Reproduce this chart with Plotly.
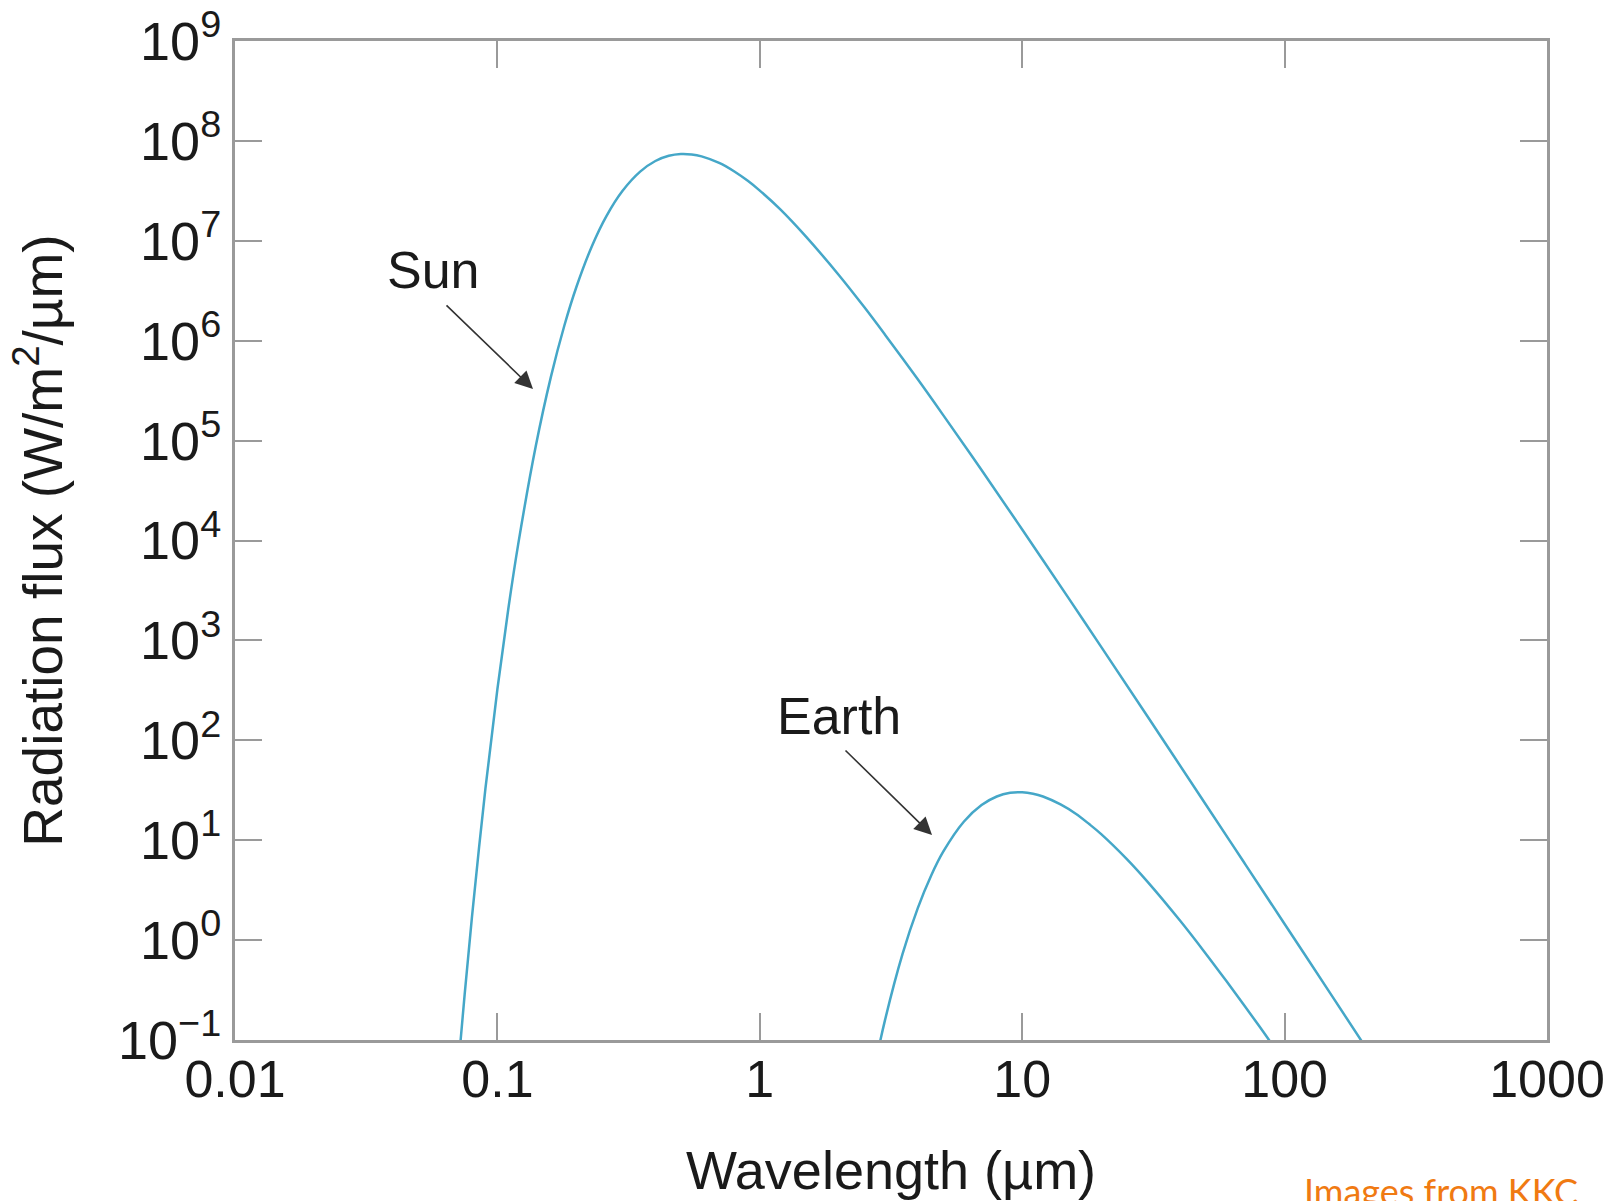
import plotly.graph_objects as go

# ---- data ----
sun_wavelength_um = [0.072, 0.075, 0.08, 0.09, 0.1, 0.11, 0.12, 0.14, 0.16, 0.18, 0.2, 0.23, 0.26,
                     0.3, 0.35, 0.4, 0.45, 0.5, 0.55, 0.6, 0.7, 0.8, 0.9, 1.0, 1.2, 1.5, 2, 2.5, 3,
                     4, 5, 7, 10, 15, 20, 30, 50, 70, 100, 150, 200]
sun_flux = [0.084, 0.283, 1.71, 32.6, 326, 2051, 9139, 8.77e4, 4.37e5, 1.42e6, 3.45e6, 9.04e6, 1.76e7,
            3.17e7, 4.93e7, 6.29e7, 7.09e7, 7.40e7, 7.32e7, 7.00e7, 6.02e7, 4.94e7, 3.98e7, 3.18e7,
            2.05e7, 1.10e7, 4.55e6, 2.17e6, 1.15e6, 4.11e5, 1.80e5, 5.07e4, 1.29e4, 2663, 861,
            174, 22.9, 6.01, 1.45, 0.288, 0.091]

earth_wavelength_um = [2.7, 3, 3.5, 4, 4.5, 5, 6, 7, 8, 9, 10, 11, 12, 14, 16, 18, 20, 25, 30,
                       40, 50, 60, 70, 80, 90]
earth_flux = [0.0447, 0.158, 0.727, 2.09, 4.44, 7.67, 15.4, 22.5, 27.4, 29.8, 30.2, 29.2, 27.4,
              22.8, 18.4, 14.5, 11.5, 6.50, 3.85, 1.56, 0.736, 0.389, 0.224, 0.138, 0.089]

x_tick_values = [0.01, 0.1, 1, 10, 100, 1000]
x_tick_labels = ["0.01", "0.1", "1", "10", "100", "1000"]
y_tick_exponents = [-1, 0, 1, 2, 3, 4, 5, 6, 7, 8, 9]

y_tick_values = [10.0 ** e for e in y_tick_exponents]
y_tick_labels = ["10<sup>%s</sup>" % (str(e).replace("-", "\u2212")) for e in y_tick_exponents]

curve_color = "#45a7c8"
axis_color = "#9a9a9a"
text_color = "#1a1a1a"
font_family = "Liberation Sans, Arial, Helvetica, sans-serif"

fig = go.Figure()
fig.add_trace(go.Scatter(x=sun_wavelength_um, y=sun_flux, mode="lines", name="Sun",
                         line=dict(color=curve_color, width=2.5, shape="spline"),
                         showlegend=False))
fig.add_trace(go.Scatter(x=earth_wavelength_um, y=earth_flux, mode="lines", name="Earth",
                         line=dict(color=curve_color, width=2.5, shape="spline"),
                         showlegend=False))

axis_common = dict(
    type="log", showgrid=False, zeroline=False,
    showline=True, linecolor=axis_color, linewidth=3, mirror="ticks",
    ticks="inside", ticklen=27, tickwidth=2, tickcolor=axis_color,
)

fig.update_xaxes(range=[-2, 3], tickmode="array", tickvals=x_tick_values, ticktext=x_tick_labels,
                 tickfont=dict(family=font_family, size=52, color=text_color),
                 ticklabelstandoff=-8,
                 title=dict(text="Wavelength (\u00b5m)", standoff=44,
                            font=dict(family=font_family, size=54, color=text_color)),
                 **axis_common)
fig.update_yaxes(range=[-1, 9], tickmode="array", tickvals=y_tick_values, ticktext=y_tick_labels,
                 tickfont=dict(family=font_family, size=54, color=text_color),
                 title=dict(text="Radiation flux (W/m<sup>2</sup>/\u00b5m)", standoff=38,
                            font=dict(family=font_family, size=55, color=text_color)),
                 **axis_common)

# labels and arrows (annotations on log axes take log10 coordinates)
fig.add_annotation(x=-1.2454, y=6.708, xref="x", yref="y", text="Sun", showarrow=False,
                   font=dict(family=font_family, size=52, color=text_color))
fig.add_annotation(x=0.3018, y=2.243, xref="x", yref="y", text="Earth", showarrow=False,
                   font=dict(family=font_family, size=52, color=text_color))
fig.add_annotation(x=-0.8643, y=5.517, xref="x", yref="y", text="", showarrow=True,
                   ax=-88, ay=-85, arrowhead=2, arrowsize=2.2, arrowwidth=1.6, arrowcolor="#333333")
fig.add_annotation(x=0.6563, y=1.052, xref="x", yref="y", text="", showarrow=True,
                   ax=-88, ay=-86, arrowhead=2, arrowsize=2.2, arrowwidth=1.6, arrowcolor="#333333")

fig.add_annotation(x=0.8133, y=-0.127, xref="paper", yref="paper", xanchor="left", yanchor="top",
                   text="Images from KKC", showarrow=False,
                   font=dict(family="Lato, Open Sans, sans-serif", size=36, color="#f07a12"))

fig.update_layout(
    width=1614, height=1201,
    margin=dict(l=235, r=67, t=41, b=161, autoexpand=False),
    plot_bgcolor="white", paper_bgcolor="white",
)

fig.write_html("out.html")
